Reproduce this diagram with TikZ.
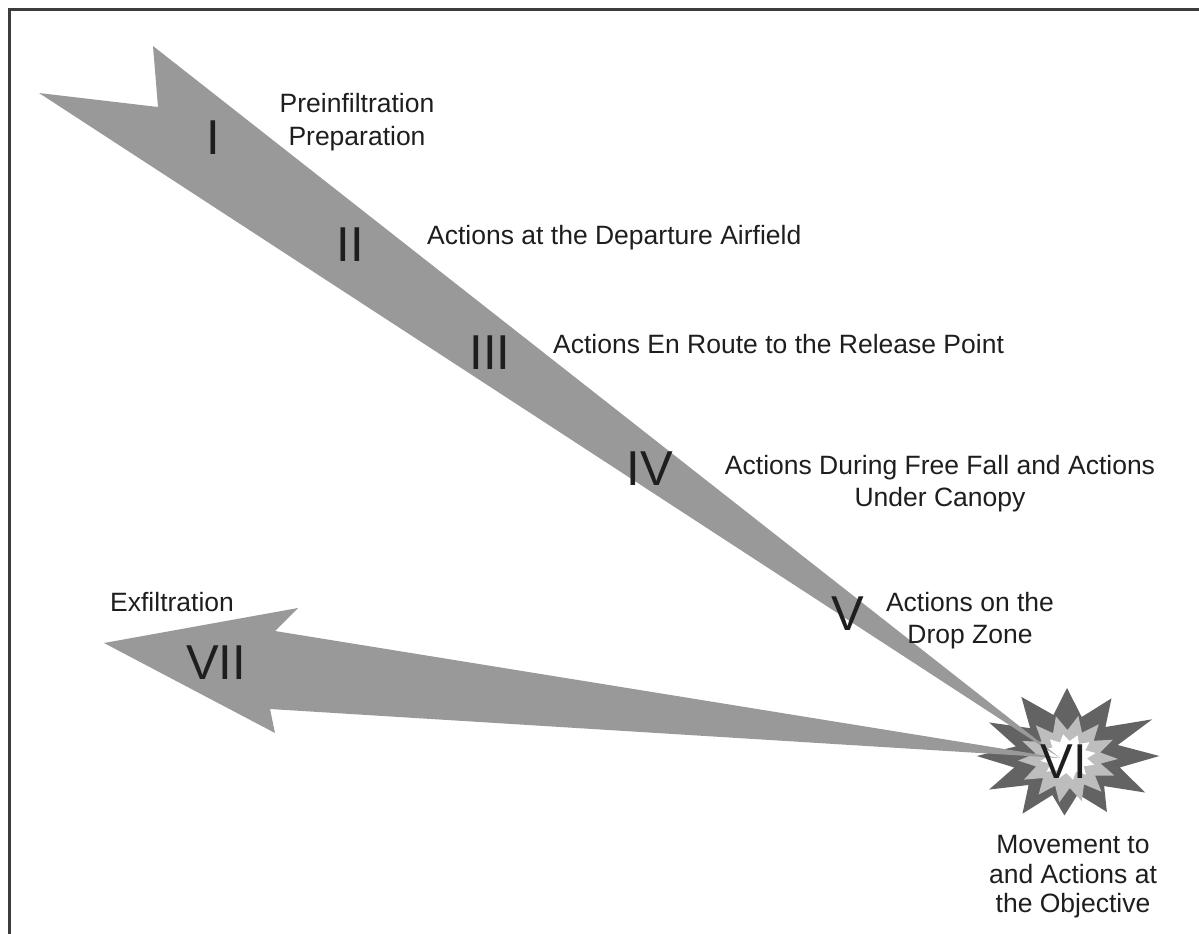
\documentclass[tikz,border=0pt]{standalone}
\usepackage{fontspec}
\setmainfont{Liberation Sans}
\definecolor{band}{HTML}{999999}
\definecolor{starout}{HTML}{636363}
\definecolor{starmid}{HTML}{BDBDBD}
\definecolor{txt}{HTML}{1E1E1E}
\definecolor{frame}{HTML}{3C3C3C}
\begin{document}
\begin{tikzpicture}[x=1pt,y=-1pt,
  lbl/.style={font=\fontsize{26.5}{30}\selectfont, text=txt, inner sep=0pt},
  num/.style={font=\fontsize{49}{50}\selectfont, text=txt, inner sep=0pt, anchor=base}]
\useasboundingbox (0,0) rectangle (1199,934);
% frame (top and left)
\draw[frame, line width=2.8pt] (9.7,934) -- (9.7,9.7) -- (1199,9.7);
% starburst
\coordinate (sc) at (1067,756);
\fill[starout] ({1067+80*1.05*cos(90)},{756-80*0.85*sin(90)})
  \foreach \a/\ro/\ri in {90/80/50,122/82/48,152/84/50,180/86/52,208/84/50,238/80/48,268/70/46,300/76/50,330/86/52,0/88/50,28/92/50,58/80/48}
  { -- ({1067+\ro*1.05*cos(\a)},{756-\ro*0.85*sin(\a)}) -- ({1067+\ri*1.05*cos(\a+15)},{756-\ri*0.85*sin(\a+15)}) } -- cycle;
\fill[starmid] ({1068+50},{759})
  \foreach \a in {0,26,...,350}
  { -- ({1068+50*cos(\a)},{759-44*sin(\a)}) -- ({1068+33*cos(\a+13)},{759-29*sin(\a+13)}) } -- cycle;
\fill[white] ({1068+28*cos(10)},{757-23*sin(10)})
  \foreach \a in {10,40,...,340}
  { -- ({1068+28*cos(\a)},{757-23*sin(\a)}) -- ({1068+19*cos(\a+15)},{757-16*sin(\a+15)}) } -- cycle;
% main band
\coordinate (tip) at (1060,758);
\fill[band] (39,93) -- (158,107) -- (153,46) -- (tip) -- cycle;
% exfiltration arrow
\fill[band] (tip) -- (275,631) -- (298,608) -- (104,643) -- (275,733) -- (270,709) -- cycle;
% numerals
\node[num] (n1) at (213,154) {I};
\node[num] (n2) at (350,261) {II};
\node[num] (n3) at (490,369) {III};
\node[num] (n4) at (650,485) {IV};
\node[num] (n5) at (848,630) {V};
\node[num] (n6) at (1064,778) {VI};
\node[num] (n7) at (216,679) {VII};
% labels
\node[lbl, anchor=base] (l1a) at (357,112) {Preinfiltration};
\node[lbl, anchor=base] (l1b) at (357,145) {Preparation};
\node[lbl, anchor=base west] (l2) at (427,244) {Actions at the Departure Airfield};
\node[lbl, anchor=base west] (l3) at (553,353) {Actions En Route to the Release Point};
\node[lbl, anchor=base] (l4a) at (940,474) {Actions During Free Fall and Actions};
\node[lbl, anchor=base] (l4b) at (940,506) {Under Canopy};
\node[lbl, anchor=base] (l5a) at (970,611) {Actions on the};
\node[lbl, anchor=base] (l5b) at (970,643) {Drop Zone};
\node[lbl, anchor=base west] (l7) at (110,611) {Exfiltration};
\node[lbl, anchor=base] (l6a) at (1073,853) {Movement to};
\node[lbl, anchor=base] (l6b) at (1073,883) {and Actions at};
\node[lbl, anchor=base] (l6c) at (1073,912) {the Objective};
\end{tikzpicture}
\end{document}
